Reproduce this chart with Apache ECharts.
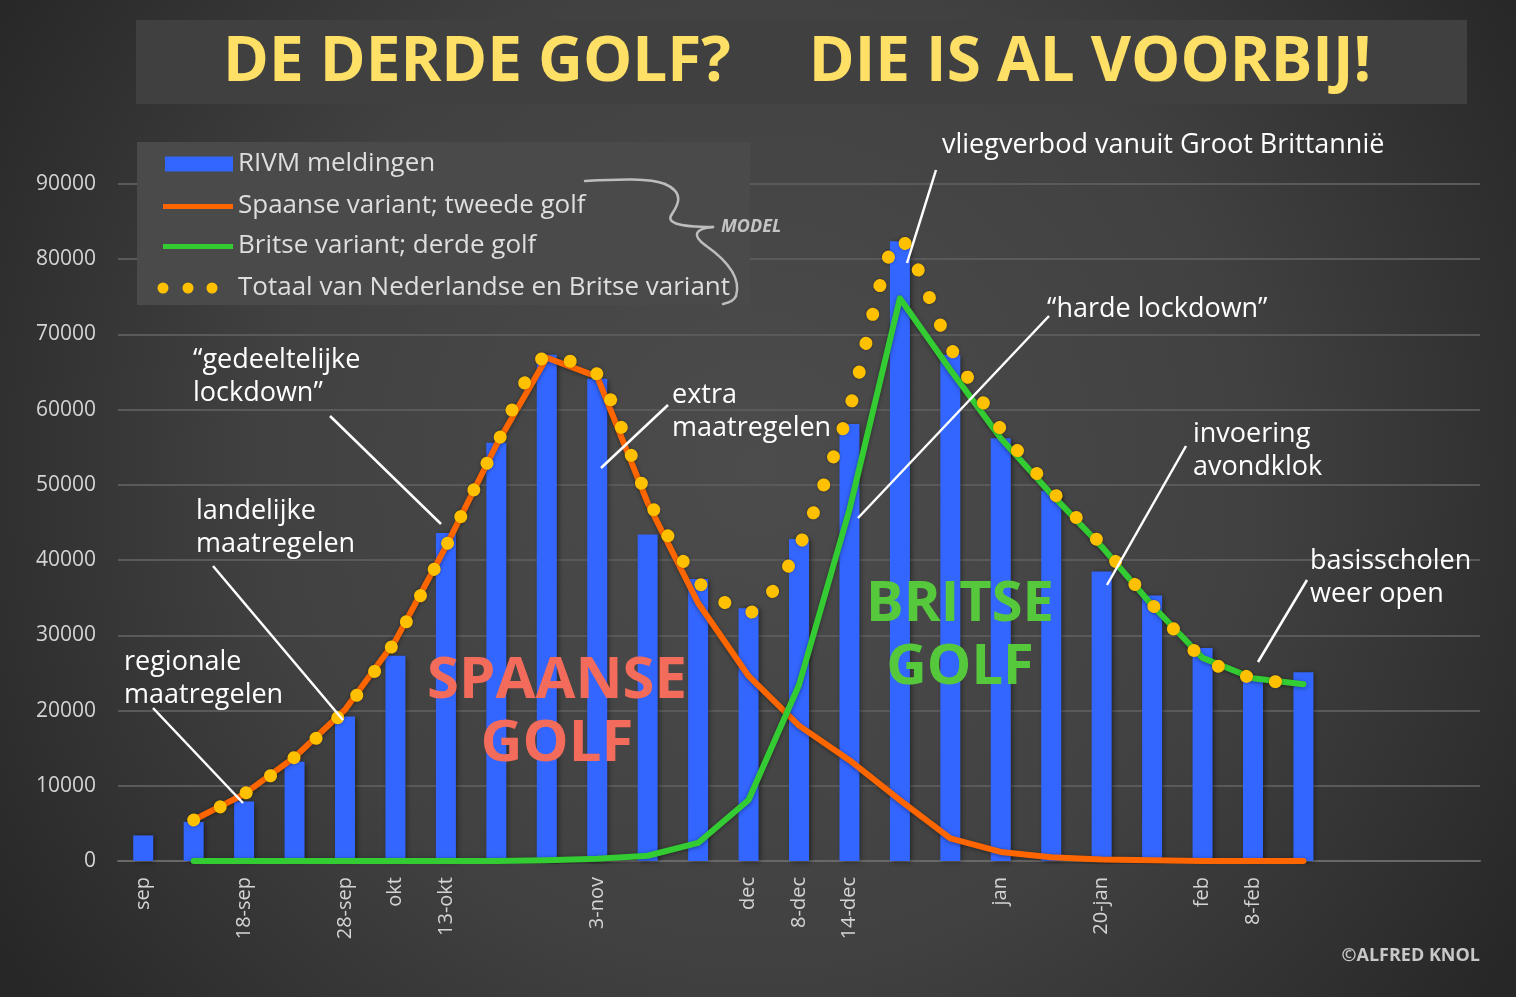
<!DOCTYPE html>
<html>
<head>
<meta charset="utf-8">
<script src="https://cdn.jsdelivr.net/npm/echarts@6/dist/echarts.min.js"></script>
<style>
html,body{margin:0;padding:0;background:#333;}
#c{width:1516px;height:997px;}
</style>
</head>
<body>
<div id="c"></div>
<script>
// ---- data ----
const categories = ['sep','', '18-sep','', '28-sep','okt','13-okt','','','3-nov','','','dec','8-dec','14-dec','','','jan','','20-jan','','feb','8-feb','','','',''];
const rivm    = [3400, 5200, 7900, 13200, 19200, 27300, 43600, 55600, 67300, 64100, 43400, 37500, 33600, 42800, 58100, 82400, 67300, 56200, 49200, 38500, 35300, 28300, 24100, 25100];
const spaans  = [null, 5450, 8900, 13800, 20100, 29300, 41800, 55300, 66900, 64400, 47600, 34300, 24600, 18000, 13400, 8100, 3000, 1200, 500, 200, 100, 0, 0, 0];
const brits   = [null, 0, 0, 0, 0, 0, 0, 0, 100, 300, 700, 2400, 8100, 23400, 46700, 74800, 65300, 56200, 48800, 41800, 34000, 27000, 24300, 23500];
const totaal  = [null, 5450, 8900, 13800, 20100, 29300, 41800, 55300, 67000, 64700, 48300, 37100, 33000, 41800, 60100, 82700, 68300, 57400, 49300, 42000, 34100, 27000, 24300, 23500];
const yMin = 0, yMax = 90000, yInterval = 10000;
const seriesNames = ['RIVM meldingen', 'Spaanse variant; tweede golf', 'Britse variant; derde golf', 'Totaal van Nederlandse en Britse variant'];

const W = 1516, H = 997;
const FONT = '"Open Sans", "Noto Sans", sans-serif';
const chart = echarts.init(document.getElementById('c'), null, {renderer: 'canvas', width: W, height: H});

const linePath = 'path://M0 0h.1v.1h-.1z M0 4H70V9H0Z M69.9 11.9h.1v.1h-.1z';
const dotsPath = 'path://M0 0h.1v.1h-.1z M.5 6a5.5 5.5 0 1 0 11 0a5.5 5.5 0 1 0 -11 0Z M25.5 6a5.5 5.5 0 1 0 11 0a5.5 5.5 0 1 0 -11 0Z M49.5 6a5.5 5.5 0 1 0 11 0a5.5 5.5 0 1 0 -11 0Z M75.9 11.9h.1v.1h-.1z';

const legendText = {color: '#dedede', fontSize: 26, fontFamily: FONT, lineHeight: 30};
function mkLegend(name, left, top, w, h, icon) {
  return {data: [name], left: left, top: top, orient: 'vertical', itemWidth: w, itemHeight: h,
    icon: icon, padding: 0, itemGap: 0, selectedMode: false, textStyle: legendText,
    itemStyle: {borderWidth: 0}};
}

const annFont = '27px ' + FONT;
function ann(text, x, y) {
  return {type: 'text', x: x, y: y, z: 50, silent: true,
    style: {text: text, font: annFont, fill: '#ffffff', verticalAlign: 'middle', lineHeight: 33}};
}
function lead(x1, y1, x2, y2) {
  return {type: 'line', z: 50, silent: true, shape: {x1: x1, y1: y1, x2: x2, y2: y2},
    style: {stroke: '#ffffff', lineWidth: 2.5}};
}
function brace(p) {
  return {type: 'bezierCurve', z: 50, silent: true,
    shape: {x1: p[0], y1: p[1], cpx1: p[2], cpy1: p[3], cpx2: p[4], cpy2: p[5], x2: p[6], y2: p[7]},
    style: {stroke: '#bdbdbd', lineWidth: 2.5, fill: null, lineCap: 'round'}};
}

const graphics = [
  {type: 'rect', z: -100, silent: true, shape: {x: 0, y: 0, width: W, height: H},
    style: {fill: new echarts.graphic.RadialGradient(0.5, 0.47, 0.9, [
      {offset: 0, color: '#4c4c4c'}, {offset: 0.55, color: '#414141'}, {offset: 1, color: '#272727'}])}},
  {type: 'rect', z: -90, silent: true, shape: {x: 136, y: 20, width: 1331, height: 84}, style: {fill: '#404040'}},
  {type: 'rect', z: 1, silent: true, shape: {x: 137, y: 142, width: 613, height: 163}, style: {fill: '#4a4a4a'}},
  {type: 'text', x: 477, y: 63, z: 50, silent: true,
    style: {text: 'DE DERDE GOLF?', font: 'bold 62px ' + FONT, fill: '#FFE066', align: 'center', verticalAlign: 'middle'}},
  {type: 'text', x: 1090, y: 63, z: 50, silent: true,
    style: {text: 'DIE IS AL VOORBIJ!', font: 'bold 62px ' + FONT, fill: '#FFE066', align: 'center', verticalAlign: 'middle'}},
  {type: 'text', x: 557, y: 713, z: 50, silent: true,
    style: {text: 'SPAANSE\nGOLF', font: 'bold 58px ' + FONT, fill: '#F26B5B', align: 'center', verticalAlign: 'middle', lineHeight: 63}},
  {type: 'text', x: 960, y: 637, z: 50, silent: true,
    style: {text: 'BRITSE\nGOLF', font: 'bold 56px ' + FONT, fill: '#55C83C', align: 'center', verticalAlign: 'middle', lineHeight: 63}},
  brace([585, 181, 620, 179, 650, 178, 665, 184]),
  brace([665, 184, 685, 193, 678, 205, 672, 214]),
  brace([672, 214, 666, 222, 675, 227, 713, 227]),
  brace([713, 227, 692, 229, 694, 237, 705, 245]),
  brace([705, 245, 725, 259, 742, 276, 736, 296]),
  brace([736, 296, 734, 301, 728, 303, 723, 304]),
  {type: 'text', x: 721, y: 227, z: 50, silent: true,
    style: {text: 'MODEL', font: 'italic bold 18px ' + FONT, fill: '#c4c4c4', verticalAlign: 'middle'}},
  {type: 'text', x: 1480, y: 956, z: 50, silent: true,
    style: {text: '©ALFRED KNOL', font: 'bold 18px ' + FONT, fill: '#c8c8c8', align: 'right', verticalAlign: 'middle'}},
  ann('regionale\nmaatregelen', 124, 679), lead(153, 708, 243, 803),
  ann('landelijke\nmaatregelen', 196, 528), lead(213, 566, 343, 720),
  ann('“gedeeltelijke\nlockdown”', 193, 377), lead(330, 416, 441, 524),
  ann('extra\nmaatregelen', 672, 412), lead(668, 405, 601, 468),
  ann('vliegverbod vanuit Groot Brittannië', 942, 145), lead(936, 170, 907, 263),
  ann('“harde lockdown”', 1047, 309), lead(1049, 316, 858, 518),
  ann('invoering\navondklok', 1193, 451), lead(1186, 446, 1107, 585),
  ann('basisscholen\nweer open', 1310, 578), lead(1307, 580, 1258, 662)
];

const option = {
  animation: false,
  backgroundColor: 'transparent',
  grid: {left: 118, right: 36, top: 184, bottom: 136, containLabel: false, outerBoundsMode: 'none'},
  legend: [
    mkLegend(seriesNames[0], 165, 149, 68, 15, 'rect'),
    mkLegend(seriesNames[1], 163, 191, 70, 12, linePath),
    mkLegend(seriesNames[2], 163, 231, 70, 12, linePath),
    mkLegend(seriesNames[3], 157, 273, 76, 12, dotsPath)
  ],
  xAxis: {
    type: 'category', data: categories, boundaryGap: true,
    axisLine: {show: true, lineStyle: {color: '#686868', width: 2}},
    axisTick: {show: false},
    axisLabel: {interval: 0, rotate: 90, margin: 16, color: '#d4d4d4', fontSize: 20, fontFamily: FONT},
    splitLine: {show: false}
  },
  yAxis: {
    type: 'value', min: yMin, max: yMax, interval: yInterval,
    axisLine: {show: false}, axisTick: {show: false},
    axisLabel: {margin: 22, color: '#d4d4d4', fontSize: 21, fontFamily: FONT, formatter: function (v) { return String(v); }},
    splitLine: {show: true, lineStyle: {color: '#5a5a5a', width: 2}}
  },
  series: [
    {name: seriesNames[0], type: 'bar', data: rivm, barWidth: 20, z: 2,
      itemStyle: {color: '#3366FF', shadowBlur: 5, shadowColor: 'rgba(0,0,0,0.45)', shadowOffsetX: 2, shadowOffsetY: 1}},
    {name: seriesNames[1], type: 'line', data: spaans, showSymbol: false, symbol: 'none', z: 3,
      itemStyle: {color: '#FF6600'},
      lineStyle: {color: '#FF6600', width: 6, cap: 'round', join: 'round', shadowBlur: 4, shadowColor: 'rgba(0,0,0,0.4)', shadowOffsetY: 1}},
    {name: seriesNames[2], type: 'line', data: brits, showSymbol: false, symbol: 'none', z: 4,
      itemStyle: {color: '#33CC33'},
      lineStyle: {color: '#33CC33', width: 6, cap: 'round', join: 'round', shadowBlur: 4, shadowColor: 'rgba(0,0,0,0.4)', shadowOffsetY: 1}},
    {name: seriesNames[3], type: 'line', data: totaal, showSymbol: false, symbol: 'none', smooth: 0.25, z: 5,
      itemStyle: {color: '#FFC000'},
      lineStyle: {color: '#FFC000', width: 13, type: [0.1, 29.5], cap: 'round', shadowBlur: 3, shadowColor: 'rgba(0,0,0,0.35)'}}
  ],
  graphic: {elements: graphics}
};
chart.setOption(option);
</script>
</body>
</html>
